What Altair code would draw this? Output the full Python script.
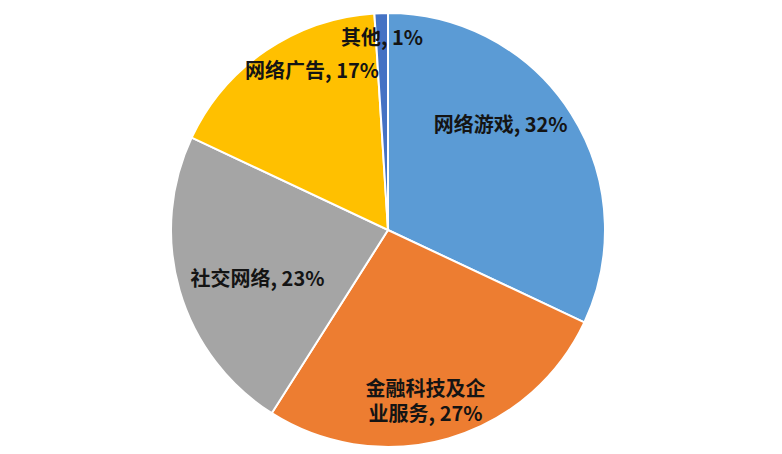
import altair as alt
import pandas as pd

categories = ["网络游戏", "金融科技及企业服务", "社交网络", "网络广告", "其他"]
values = [32, 27, 23, 17, 1]
labels = ["网络游戏, 32%", "金融科技及企\n业服务, 27%", "社交网络, 23%", "网络广告, 17%", "其他, 1%"]
colors = ["#5B9BD5", "#ED7D31", "#A5A5A5", "#FFC000", "#4472C4"]

df = pd.DataFrame({
    "category": categories,
    "value": values,
    "label": labels,
    "order": list(range(len(categories))),
})

theta_scale = alt.Scale(domain=[0, 100], range=[0, 6.283185307179586])

base = alt.Chart(df).transform_window(
    cum="sum(value)", sort=[alt.SortField("order")], frame=[None, 0]
).transform_calculate(
    start="datum.cum - datum.value", mid="datum.cum - datum.value / 2"
)

pie = base.mark_arc(radius=217, stroke="white", strokeWidth=2).encode(
    theta=alt.Theta("start:Q", scale=theta_scale),
    theta2="cum:Q",
    color=alt.Color("category:N", scale=alt.Scale(domain=categories, range=colors), legend=None),
)

# per-label placement tweaks (radius, dx, dy)
placements = {
    "网络游戏": (150, -14, -24),
    "金融科技及企业服务": (174, -11, -7),
    "社交网络": (139, 3, 11),
    "网络广告": (176, 23, -12),
    "其他": (192, 0, 1),
}

layers = [pie]
for cat in categories:
    r, dx, dy = placements[cat]
    t = base.transform_filter(alt.datum.category == cat).mark_text(
        radius=r, dx=dx, dy=dy,
        font="Noto Sans CJK SC", fontSize=20, fontWeight="bold",
        color="#141414", align="center", baseline="middle", lineBreak="\n", lineHeight=25,
    ).encode(
        theta=alt.Theta("mid:Q", scale=theta_scale),
        text="label:N",
    )
    layers.append(t)

chart = alt.layer(*layers).properties(
    width=760, height=444, padding=0, autosize="none", background="white"
).configure_view(stroke=None)

chart.save("out.html", embed_options={"renderer": "svg", "actions": False})
